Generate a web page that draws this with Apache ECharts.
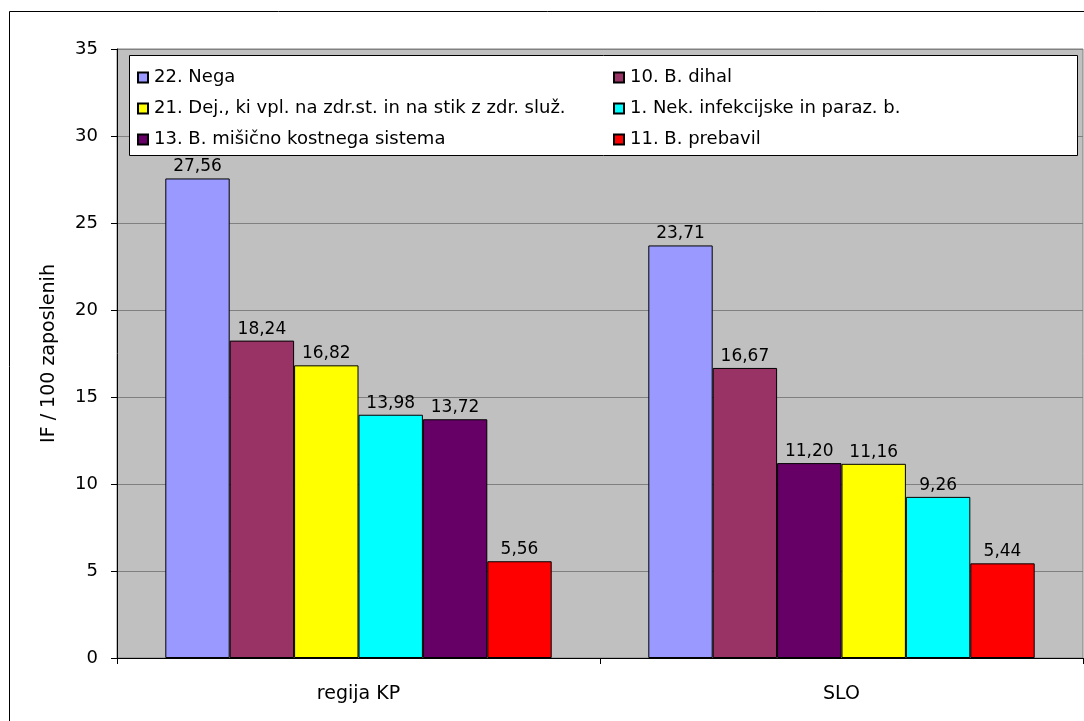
<!DOCTYPE html>
<html>
<head>
<meta charset="utf-8">
<script src="https://cdn.jsdelivr.net/npm/echarts@6/dist/echarts.min.js"></script>
<style>
html,body{margin:0;padding:0;background:#fff;}
#c{width:1084px;height:721px;}
</style>
</head>
<body>
<div id="c"></div>
<script>
const categories = ['regija KP', 'SLO'];
const seriesNames = [
  '22. Nega',
  '10. B. dihal',
  '21. Dej., ki vpl. na zdr.st. in na stik z zdr. služ.',
  '1. Nek. infekcijske in paraz. b.',
  '13. B. mišično kostnega sistema',
  '11. B. prebavil'
];
const seriesColors = ['#9999FF', '#993366', '#FFFF00', '#00FFFF', '#660066', '#FF0000'];
const nega = [27.56, 23.71];
const dihal = [18.24, 16.67];
const dej = [16.82, 11.16];
const nek = [13.98, 9.26];
const misicno = [13.72, 11.20];
const prebavil = [5.56, 5.44];
const yTicks = [0, 5, 10, 15, 20, 25, 30, 35];

const values = [nega, dihal, dej, nek, misicno, prebavil];
const FONT = 'DejaVu Sans';

// Bars are ordered by value within each category; build "slot" series.
const slotSeries = [];
for (let k = 0; k < seriesNames.length; k++) {
  slotSeries.push({ name: 'slot' + k, type: 'bar', xAxisIndex: 0, yAxisIndex: 0, data: [],
    barGap: '0%', barCategoryGap: '20%',
    itemStyle: { borderColor: '#000', borderWidth: 1 },
    label: { show: true, position: 'top', distance: 3, color: '#000', fontFamily: FONT, fontSize: 17,
      formatter: p => p.value.toFixed(2).replace('.', ',') },
    emphasis: { disabled: true }, silent: true });
}
categories.forEach((c, ci) => {
  const order = values.map((v, i) => i).sort((a, b) => values[b][ci] - values[a][ci]);
  order.forEach((si, k) => {
    slotSeries[k].data.push({ value: values[si][ci], itemStyle: { color: seriesColors[si] } });
  });
});

// Legend-only series on a hidden axis
const legendSeries = seriesNames.map((n, i) => ({
  name: n, type: 'bar', xAxisIndex: 1, yAxisIndex: 1, data: [],
  itemStyle: { color: seriesColors[i], borderColor: '#000', borderWidth: 1 }
}));

const legendCommon = {
  orient: 'vertical', selectedMode: false, icon: 'rect', itemWidth: 10, itemHeight: 10,
  itemGap: 10, textStyle: { fontFamily: FONT, fontSize: 18, lineHeight: 21, color: '#000', padding: [0, 0, 0, 1] }, padding: 0
};

const chart = echarts.init(document.getElementById('c'), null, { renderer: 'canvas' });
chart.setOption({
  backgroundColor: '#fff',
  animation: false,
  graphic: [
    { type: 'rect', shape: { x: 9.5, y: 11.5, width: 1100, height: 720 }, style: { fill: 'none', stroke: '#000', lineWidth: 1 }, z: 0 },
    { type: 'rect', shape: { x: 129.5, y: 55.5, width: 948, height: 100 }, style: { fill: '#fff', stroke: '#000', lineWidth: 1 }, z: 10 }
  ],
  grid: { left: 117, right: 1, top: 49, bottom: 63, show: true, backgroundColor: '#C0C0C0', borderColor: '#808080', borderWidth: 1 },
  legend: [
    Object.assign({}, legendCommon, { left: 137, top: 67, data: [seriesNames[0], seriesNames[2], seriesNames[4]], z: 20 }),
    Object.assign({}, legendCommon, { left: 613, top: 67, data: [seriesNames[1], seriesNames[3], seriesNames[5]], z: 20 })
  ],
  xAxis: [
    { type: 'category', data: categories, gridIndex: 0,
      axisLine: { lineStyle: { color: '#000', width: 1 } },
      axisTick: { show: true, length: 6, lineStyle: { color: '#000' } },
      axisLabel: { color: '#000', fontFamily: FONT, fontSize: 19, margin: 27 } },
    { type: 'category', data: categories, gridIndex: 0, show: false }
  ],
  yAxis: [
    { type: 'value', min: 0, max: 35, interval: 5, gridIndex: 0,
      name: 'IF / 100 zaposlenih', nameLocation: 'middle', nameGap: 58, nameRotate: 90,
      nameTextStyle: { fontFamily: FONT, fontSize: 19, color: '#000' },
      axisLine: { show: true, lineStyle: { color: '#000', width: 1 } },
      axisTick: { show: true, length: 6, lineStyle: { color: '#000' } },
      axisLabel: { color: '#000', fontFamily: FONT, fontSize: 18, margin: 19,
        formatter: v => yTicks.includes(v) ? String(v) : '' },
      splitLine: { show: true, lineStyle: { color: '#808080', width: 1 } } },
    { type: 'value', min: 0, max: 35, gridIndex: 0, show: false, splitLine: { show: false } }
  ],
  series: slotSeries.concat(legendSeries)
});
</script>
</body>
</html>
